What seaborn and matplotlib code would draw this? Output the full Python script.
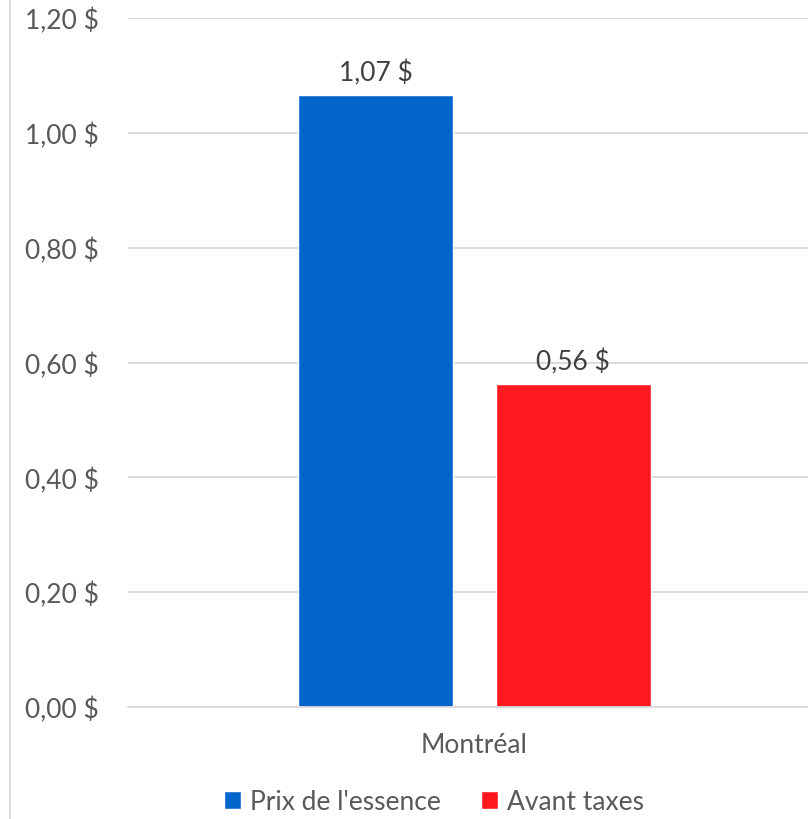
import pandas as pd
import matplotlib.pyplot as plt
from matplotlib.lines import Line2D
import seaborn as sns

# --- DATA ---
cities = ["Montréal"]
series = ["Prix de l'essence", "Avant taxes"]
values = [1.066, 0.562]
yticks = [0.0, 0.2, 0.4, 0.6, 0.8, 1.0, 1.2]

c_blue = '#0366CC'
c_red = '#FF191E'
c_text = '#595959'
c_grid = '#D9D9D9'
FS = 19


def fmt(v):
    return f"{v:.2f}".replace('.', ',') + " $"


def generate_graph():
    df = pd.DataFrame({'city': cities * len(series), 'series': series, 'value': values})

    sns.set_style("white")
    plt.rcParams['font.family'] = ['Lato', 'DejaVu Sans']

    fig = plt.figure(figsize=(8.08, 8.20), dpi=100)
    ax = fig.add_axes([128 / 808, 112 / 820, 693 / 808, 689 / 820])

    sns.barplot(data=df, x='city', y='value', hue='series', palette=[c_blue, c_red],
                width=0.57, gap=0.213, ax=ax, saturation=1)

    ax.set_xlim(-0.5, 0.5)
    ax.set_ylim(0, 1.2)
    ax.set_yticks(yticks)
    ax.set_yticklabels([fmt(t) for t in yticks])
    ax.yaxis.grid(True, color=c_grid, linewidth=1.3)
    ax.set_axisbelow(True)
    for s in ['top', 'right', 'left']:
        ax.spines[s].set_visible(False)
    ax.spines['bottom'].set_color(c_grid)
    ax.spines['bottom'].set_linewidth(1.3)

    ax.tick_params(axis='y', length=0, pad=21, labelsize=FS, labelcolor=c_text)
    ax.tick_params(axis='x', length=0, pad=18, labelsize=FS, labelcolor=c_text)
    ax.set_xlabel("")
    ax.set_ylabel("")

    # value labels on top of each bar
    for cont in ax.containers:
        ax.bar_label(cont, labels=[fmt(b.get_height()) for b in cont],
                     padding=7, fontsize=FS, color='#404040')

    handles, labels = ax.get_legend_handles_labels()
    ax.legend_.remove()
    fig.legend(handles, labels, loc='center', bbox_to_anchor=(434 / 808, 1 - 803 / 820),
               ncol=2, frameon=False, fontsize=FS, labelcolor=c_text,
               handlelength=0.65, handleheight=0.65, handletextpad=0.35, columnspacing=1.5)

    # chart border on the left
    fig.add_artist(Line2D([10 / 808, 10 / 808], [0, 1], color=c_grid, linewidth=1.3))

    fig.savefig("out.png", dpi=100)


if __name__ == "__main__":
    generate_graph()
